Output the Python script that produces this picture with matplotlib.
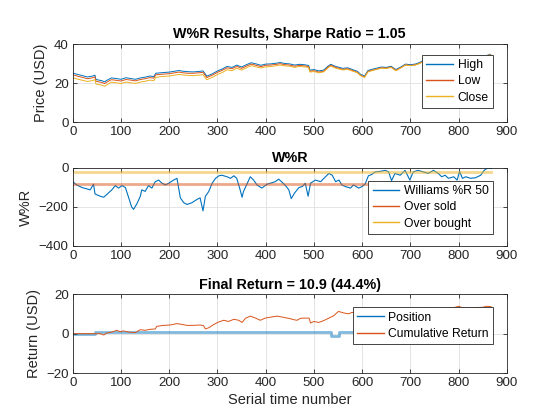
import matplotlib
matplotlib.use('Agg')
from matplotlib import pyplot as plt
from matplotlib.lines import Line2D

# price panel (sampled by eye from the reference)
price_x = [0, 10, 20, 30, 40, 46, 48, 60, 66, 70, 80, 90, 100, 110, 120, 130, 140, 150, 160, 168,
           172, 180, 190, 200, 210, 220, 230, 240, 250, 260, 270, 275, 278, 290, 300, 310, 320, 330,
           340, 350, 360, 370, 380, 390, 400, 410, 420, 430, 440, 450, 460, 470, 480, 489, 492, 500,
           510, 520, 530, 535, 545, 560, 570, 580, 590, 597, 605, 612, 620, 630, 640, 650, 660, 670,
           680, 690, 700, 710, 720, 725, 735, 745, 755, 765, 775, 785, 795, 805, 815, 825, 835, 845,
           855, 865, 868]
high = [25.1, 24.4, 23.8, 23.1, 23.5, 24.0, 21.8, 21.2, 20.6, 21.3, 22.6, 22.3, 21.9, 22.7, 22.3, 21.9,
        22.6, 23.0, 23.6, 23.3, 25.0, 25.2, 25.4, 25.6, 26.0, 26.4, 26.0, 25.8, 25.7, 25.9, 26.2, 24.5,
        23.5, 24.8, 26.2, 27.2, 28.5, 28.0, 29.2, 28.2, 29.4, 30.4, 29.8, 29.1, 29.7, 29.8, 30.1, 30.5,
        30.0, 29.8, 29.2, 29.6, 29.4, 29.0, 26.6, 26.9, 26.2, 26.6, 28.8, 29.6, 28.5, 27.5, 27.8, 26.9,
        26.0, 24.4, 23.6, 26.4, 27.0, 27.6, 28.2, 28.0, 28.6, 26.9, 28.2, 29.7, 29.4, 29.7, 30.6, 31.3,
        31.8, 31.2, 32.2, 32.6, 31.9, 32.8, 33.2, 32.7, 33.4, 32.9, 33.6, 34.0, 33.7, 34.8, 34.2]
low = [24.2, 23.5, 22.9, 22.2, 22.6, 23.1, 20.9, 20.3, 19.7, 20.4, 21.7, 21.4, 21.0, 21.8, 21.5, 21.1,
       21.8, 22.2, 22.8, 22.5, 24.2, 24.4, 24.6, 24.8, 25.2, 25.6, 25.2, 25.0, 25.0, 25.2, 25.5, 23.8,
       22.8, 24.1, 25.5, 26.5, 27.8, 27.3, 28.5, 27.5, 28.7, 29.7, 29.1, 28.4, 29.1, 29.2, 29.5, 29.9,
       29.4, 29.2, 28.6, 29.0, 28.8, 28.4, 26.0, 26.3, 25.6, 26.0, 28.3, 29.1, 28.0, 27.0, 27.3, 26.4,
       25.5, 23.9, 23.1, 25.9, 26.5, 27.1, 27.8, 27.6, 28.2, 26.5, 27.8, 29.3, 29.0, 29.3, 30.2, 30.9,
       31.4, 30.9, 31.9, 32.3, 31.6, 32.5, 32.9, 32.4, 33.1, 32.6, 33.3, 33.7, 33.4, 34.5, 33.9]
close = [22.7, 22.0, 21.4, 20.8, 21.2, 21.7, 19.5, 18.9, 18.3, 19.0, 20.4, 20.1, 19.7, 20.5, 20.1, 19.8,
         20.5, 20.9, 21.5, 21.2, 22.9, 23.2, 23.4, 23.6, 24.0, 24.4, 24.1, 23.9, 23.8, 24.0, 24.3, 22.6,
         21.7, 23.0, 24.4, 25.4, 26.8, 26.3, 27.6, 26.6, 27.8, 28.9, 28.3, 27.7, 28.3, 28.4, 28.8, 29.2,
         28.8, 28.6, 28.0, 28.5, 28.3, 28.0, 25.6, 25.9, 25.2, 25.7, 27.9, 28.7, 27.6, 26.7, 27.0, 26.1,
         25.3, 23.7, 22.9, 25.7, 26.3, 27.0, 27.6, 27.4, 28.0, 26.3, 27.7, 29.2, 28.9, 29.2, 30.1, 30.8,
         31.3, 30.8, 31.8, 32.2, 31.5, 32.4, 32.8, 32.3, 33.1, 32.6, 33.3, 33.7, 33.4, 34.5, 33.9]

# williams %R panel
wr_x = [0, 8, 19, 29, 36, 43, 46, 57, 64, 70, 81, 88, 95, 102, 109, 116, 122, 126, 133, 140, 143, 150,
        157, 164, 171, 178, 185, 192, 199, 209, 216, 223, 230, 237, 247, 257, 264, 270, 275, 282, 289,
        296, 303, 309, 320, 327, 334, 340, 347, 351, 354, 361, 368, 375, 382, 392, 403, 410, 420, 427,
        434, 441, 448, 453, 460, 469, 476, 482, 488, 493, 503, 514, 524, 531, 538, 545, 552, 558, 565,
        576, 582, 593, 600, 606, 613, 620, 627, 638, 648, 655, 661, 668, 679, 689, 699, 706, 716, 727,
        737, 748, 758, 765, 772, 779, 790, 797, 802, 808, 815, 825, 835, 846, 853, 859, 866, 868]
wr = [-70, -87, -100, -107, -112, -83, -133, -145, -150, -137, -112, -90, -103, -90, -100, -153, -200,
      -212, -183, -145, -112, -120, -90, -103, -70, -62, -78, -87, -78, -62, -53, -153, -178, -187, -178,
      -162, -153, -220, -145, -120, -78, -53, -40, -37, -45, -53, -40, -53, -112, -150, -120, -83, -45,
      -62, -87, -103, -83, -78, -70, -57, -73, -90, -112, -157, -128, -100, -95, -78, -145, -78, -62,
      -70, -45, -28, -37, -70, -62, -87, -95, -103, -87, -103, -95, -83, -40, -33, -20, -17, -12, -20,
      -65, -28, -37, -12, -62, -20, -12, -20, -28, -12, -28, -45, -37, -53, -45, -62, -17, -53, -45,
      -53, -50, -37, -12, -2, 0, -3]
over_sold = -80
over_bought = -20
wr_span = [0, 868]

# return panel
pos_x = [0, 45, 535, 552, 868]
position = [0, 1, -1, 1, 1]
ret_x = [0, 45, 57, 64, 70, 81, 91, 98, 105, 116, 129, 140, 150, 160, 171, 174, 188, 202, 216, 226,
         237, 250, 264, 271, 275, 282, 292, 302, 313, 323, 334, 344, 351, 358, 368, 379, 389, 399, 410,
         424, 437, 451, 458, 465, 472, 479, 490, 493, 500, 510, 520, 531, 541, 551, 562, 572, 579, 590,
         610, 630, 650, 670, 690, 710, 730, 750, 770, 790, 800, 810, 830, 850, 858, 865, 868]
cum_ret = [0, 0, 0, -0.7, 0.3, 0.8, 1.7, 1.0, 1.4, 0.8, 0.5, 2.0, 1.7, 2.2, 2.4, 3.7, 4.2, 4.4, 5.1, 4.7,
           4.2, 4.2, 4.4, 4.1, 2.4, 3.0, 4.6, 5.9, 6.8, 6.2, 7.3, 6.8, 5.7, 7.8, 8.9, 7.9, 6.8, 7.9, 8.4,
           8.9, 8.3, 7.6, 7.1, 6.8, 7.8, 7.9, 7.9, 5.4, 6.2, 5.7, 6.6, 7.9, 9.1, 11.3, 10.5, 10.1, 10.8,
           10.4, 11.2, 11.8, 11.0, 10.2, 12.0, 12.1, 13.0, 12.6, 12.9, 13.2, 13.9, 13.0, 13.2, 13.4, 13.9,
           13.8, 13.6]

blue = '#0072BD'
orange = '#D95319'
yellow = '#EDB120'
ink = '#262626'

plt.rcParams['font.family'] = ['Liberation Sans', 'DejaVu Sans']
plt.rcParams['axes.edgecolor'] = ink
plt.rcParams['axes.linewidth'] = 0.6
plt.rcParams['xtick.color'] = ink
plt.rcParams['ytick.color'] = ink
plt.rcParams['xtick.direction'] = 'in'
plt.rcParams['ytick.direction'] = 'in'
plt.rcParams['xtick.top'] = True
plt.rcParams['ytick.right'] = True
plt.rcParams['xtick.major.size'] = 3
plt.rcParams['ytick.major.size'] = 3
plt.rcParams['xtick.major.width'] = 0.6
plt.rcParams['ytick.major.width'] = 0.6
plt.rcParams['xtick.labelsize'] = 9.6
plt.rcParams['ytick.labelsize'] = 9.6

fig = plt.figure(figsize=(5.6, 4.2), dpi=100)
ax1 = fig.add_axes([0.13, 0.7095, 0.775, 0.1857])
ax2 = fig.add_axes([0.13, 0.4143, 0.775, 0.1857])
ax3 = fig.add_axes([0.13, 0.1119, 0.775, 0.1874])


def style(ax, ylim, yticks, ylabel, title):
    ax.set_xlim(0, 900)
    ax.set_xticks(range(0, 901, 100))
    ax.set_ylim(*ylim)
    ax.set_yticks(yticks)
    ax.grid(True, color='#dfdfdf', linewidth=0.6)
    ax.set_axisbelow(True)
    ax.set_ylabel(ylabel, fontsize=10.5, color=ink, labelpad=4)
    ax.set_title(title, fontsize=10.3, fontweight='bold', color='black', pad=4)
    ax.tick_params(pad=3)


def legend(ax, handles, labels, anchor):
    lg = ax.legend(handles, labels, loc='upper right', bbox_to_anchor=anchor, fontsize=8.7,
                   fancybox=False, framealpha=1, edgecolor=ink, borderpad=0.35,
                   labelspacing=0.35, handlelength=2.2, handletextpad=0.4, borderaxespad=0)
    lg.get_frame().set_linewidth(0.6)
    for t in lg.get_texts():
        t.set_color('black')


ax1.plot(price_x, high, color=blue, lw=0.7)
ax1.plot(price_x, low, color=orange, lw=0.7)
ax1.plot(price_x, close, color=yellow, lw=0.7)
style(ax1, (0, 40), [0, 20, 40], 'Price (USD)', 'W%R Results, Sharpe Ratio = 1.05')
legend(ax1, [Line2D([], [], color=c, lw=1) for c in (blue, orange, yellow)],
       ['High', 'Low', 'Close'], (0.9685, 0.859))

ax2.plot(wr_x, wr, color=blue, lw=0.8)
ax2.plot(wr_span, [over_sold, over_sold], color=orange, lw=2, alpha=0.5)
ax2.plot(wr_span, [over_bought, over_bought], color=yellow, lw=2, alpha=0.5)
style(ax2, (-400, 0), [-400, -200, 0], 'W%R', 'W%R')
legend(ax2, [Line2D([], [], color=c, lw=1) for c in (blue, orange, yellow)],
       ['Williams %R 50', 'Over sold', 'Over bought'], (0.9685, 0.833))

ax3.plot(pos_x, position, color=blue, lw=2, alpha=0.5, drawstyle='steps-post')
ax3.plot(ret_x, cum_ret, color=orange, lw=0.7)
style(ax3, (-20, 20), [-20, 0, 20], 'Return (USD)', 'Final Return = 10.9 (44.4%)')
ax3.set_xlabel('Serial time number', fontsize=10.5, color=ink, labelpad=3)
legend(ax3, [Line2D([], [], color=c, lw=1) for c in (blue, orange)],
       ['Position', 'Cumulative Return'], (0.9685, 0.835))

fig.savefig('out.png', dpi=100)
